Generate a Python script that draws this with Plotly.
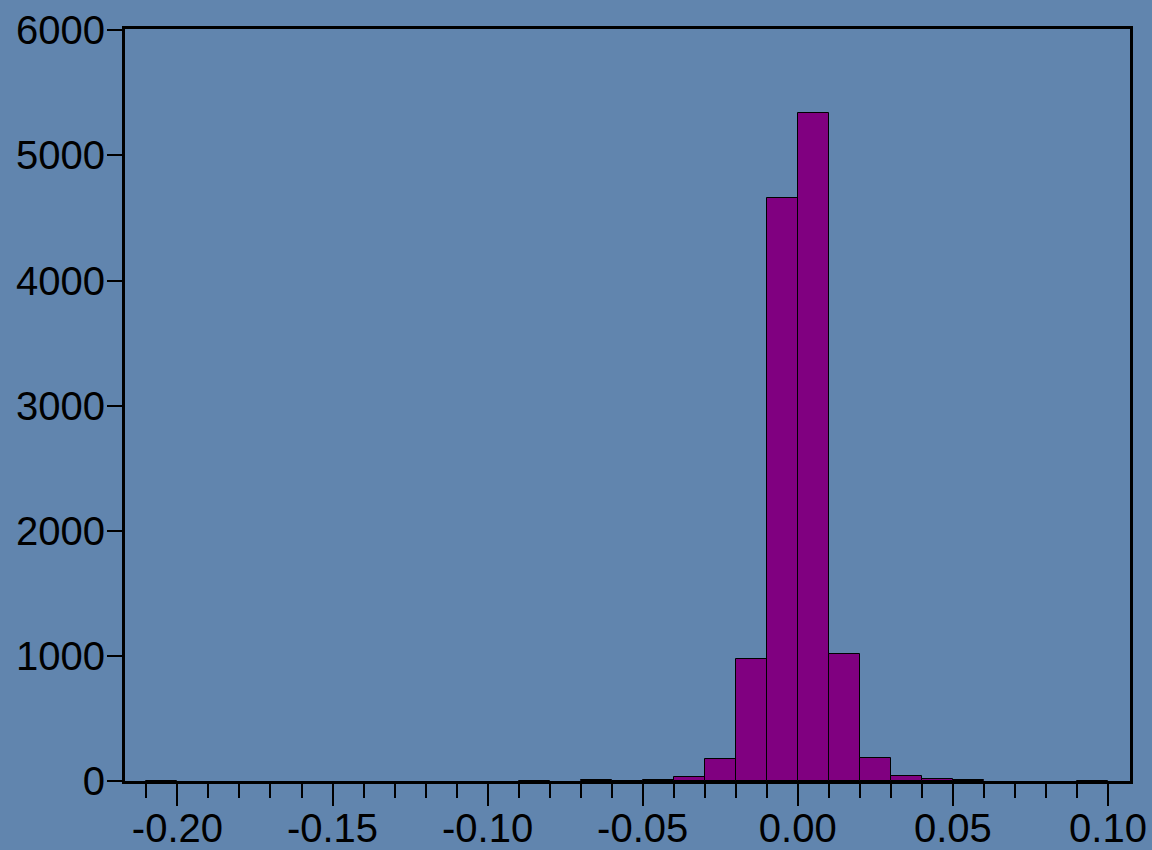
import plotly.graph_objects as go

# Histogram bins (left edges, width 0.01) and counts
bin_starts = [-0.21, -0.09, -0.07, -0.06, -0.05, -0.04, -0.03, -0.02, -0.01,
              0.00, 0.01, 0.02, 0.03, 0.04, 0.05, 0.09]
counts = [4, 4, 6, 3, 6, 32, 173, 978, 4660, 5338, 1013, 187, 43, 14, 6, 4]
bin_width = 0.01

x_tickvals = [-0.20, -0.15, -0.10, -0.05, 0.00, 0.05, 0.10]
x_ticktext = ["-0.20", "-0.15", "-0.10", "-0.05", "0.00", "0.05", "0.10"]
y_tickvals = [0, 1000, 2000, 3000, 4000, 5000, 6000]

BG = "#6185ae"
FONT = dict(family="Liberation Sans, Arial, sans-serif", size=40, color="black")

fig = go.Figure()
fig.add_trace(go.Bar(
    x=bin_starts, y=counts, width=bin_width, offset=0,
    marker=dict(color="#800080", line=dict(color="black", width=1)),
    showlegend=False,
))

fig.update_layout(
    width=1152, height=850,
    margin=dict(l=125, r=22, t=29, b=69),
    paper_bgcolor=BG, plot_bgcolor=BG,
    font=FONT,
    bargap=0,
)
fig.update_xaxes(
    range=[-0.2169, 0.1071],
    tickmode="array", tickvals=x_tickvals, ticktext=x_ticktext,
    ticks="outside", ticklen=22, tickwidth=2, tickcolor="black",
    minor=dict(dtick=0.01, tick0=0, ticks="outside", ticklen=14,
               tickwidth=2, tickcolor="black", showgrid=False),
    showline=True, linecolor="black", linewidth=3, mirror=True,
    showgrid=False, zeroline=False, automargin=False,
    tickfont=FONT, ticklabelstandoff=-12,
)
fig.update_yaxes(
    range=[0, 6010],
    tickmode="array", tickvals=y_tickvals,
    ticks="outside", ticklen=15, tickwidth=2, tickcolor="black",
    showline=True, linecolor="black", linewidth=3, mirror=True,
    showgrid=False, zeroline=False, automargin=False,
    tickfont=FONT, ticklabelstandoff=-6,
)

fig.write_html(
    "out.html",
    config={"displayModeBar": False},
    post_script="document.body.style.margin='0';document.body.style.overflow='hidden';",
)
